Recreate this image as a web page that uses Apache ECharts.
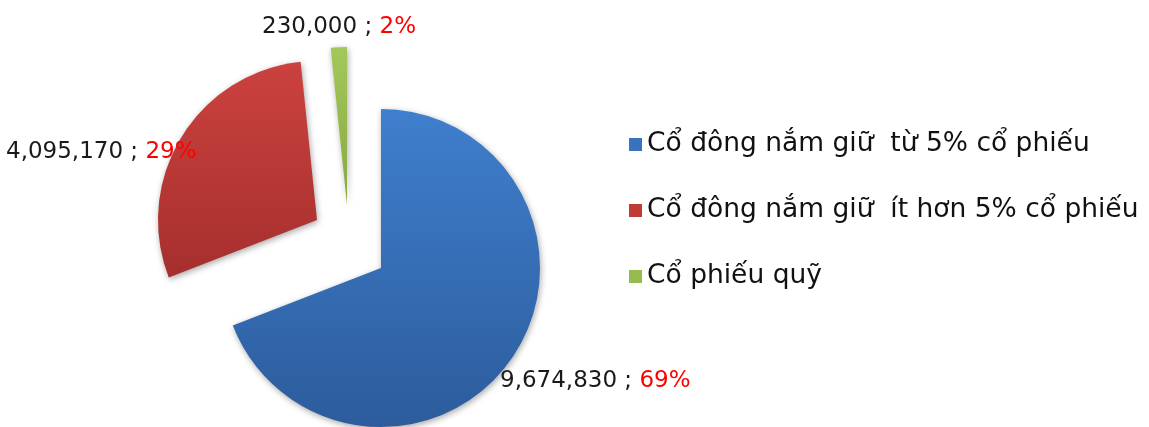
<!DOCTYPE html>
<html>
<head>
<meta charset="utf-8">
<script src="https://cdn.jsdelivr.net/npm/echarts@6/dist/echarts.min.js"></script>
<style>
  html, body { margin: 0; padding: 0; background: #ffffff; }
  #chart { width: 1149px; height: 427px; }
</style>
</head>
<body>
<div id="chart"></div>
<script>
// ---- data ----
const categories = [
  'Cổ đông nắm giữ  từ 5% cổ phiếu',
  'Cổ đông nắm giữ  ít hơn 5% cổ phiếu',
  'Cổ phiếu quỹ'
];
const shares = [9674830, 4095170, 230000];

// ---- styles / layout ----
const topColors = ['#3f7fcd', '#cb423f', '#a3c85a'];
const bottomColors = ['#2c5c9c', '#a52f2d', '#87a83f'];
const legendColors = ['#3a73bd', '#bf3b38', '#96bb4f'];
const sliceCenters = [[381, 268], [317, 220], [347, 205]];
const sliceRadii = [159, 159, 158];
const labelPlaces = [
  { x: 500, y: 381, align: 'left' },
  { x: 6, y: 152, align: 'left' },
  { x: 339, y: 27, align: 'center' }
];

const fmt = v => v.toLocaleString('en-US');

const series = categories.map((_, k) => ({
  type: 'pie',
  center: sliceCenters[k],
  radius: [0, sliceRadii[k]],
  startAngle: 90,
  clockwise: true,
  percentPrecision: 0,
  avoidLabelOverlap: false,
  silent: true,
  animation: false,
  label: {
    position: 'outside',
    formatter: p => '{n|' + fmt(p.value) + ' ; }{p|' + p.percent + '%}',
    rich: {
      n: { fontFamily: 'DejaVu Sans', fontSize: 23, color: '#1a1a1a' },
      p: { fontFamily: 'DejaVu Sans', fontSize: 23, color: '#ff0000' }
    }
  },
  labelLine: { show: false },
  labelLayout: () => ({
    x: labelPlaces[k].x,
    y: labelPlaces[k].y,
    align: labelPlaces[k].align,
    verticalAlign: 'middle'
  }),
  emphasis: { disabled: true },
  data: categories.map((name, i) => ({
    name: name,
    value: shares[i],
    itemStyle: i === k ? {
      color: new echarts.graphic.LinearGradient(0, 0, 0, 1, [
        { offset: 0, color: topColors[i] },
        { offset: 1, color: bottomColors[i] }
      ]),
      shadowBlur: 6,
      shadowOffsetX: 1,
      shadowOffsetY: 2,
      shadowColor: 'rgba(0,0,0,0.35)'
    } : { color: 'rgba(0,0,0,0)', opacity: 0 },
    label: { show: i === k }
  }))
}));

const chart = echarts.init(document.getElementById('chart'), null, { renderer: 'canvas' });
chart.setOption({
  backgroundColor: '#ffffff',
  animation: false,
  legend: {
    orient: 'vertical',
    left: 624,
    top: 126,
    icon: 'rect',
    itemWidth: 13,
    itemHeight: 13,
    itemGap: 39,
    selectedMode: false,
    textStyle: { fontFamily: 'DejaVu Sans', fontSize: 26.5, color: '#111111', lineHeight: 25 },
    data: categories.map((n, i) => ({ name: n, itemStyle: { color: legendColors[i], opacity: 1 } }))
  },
  series: series
});
</script>
</body>
</html>
